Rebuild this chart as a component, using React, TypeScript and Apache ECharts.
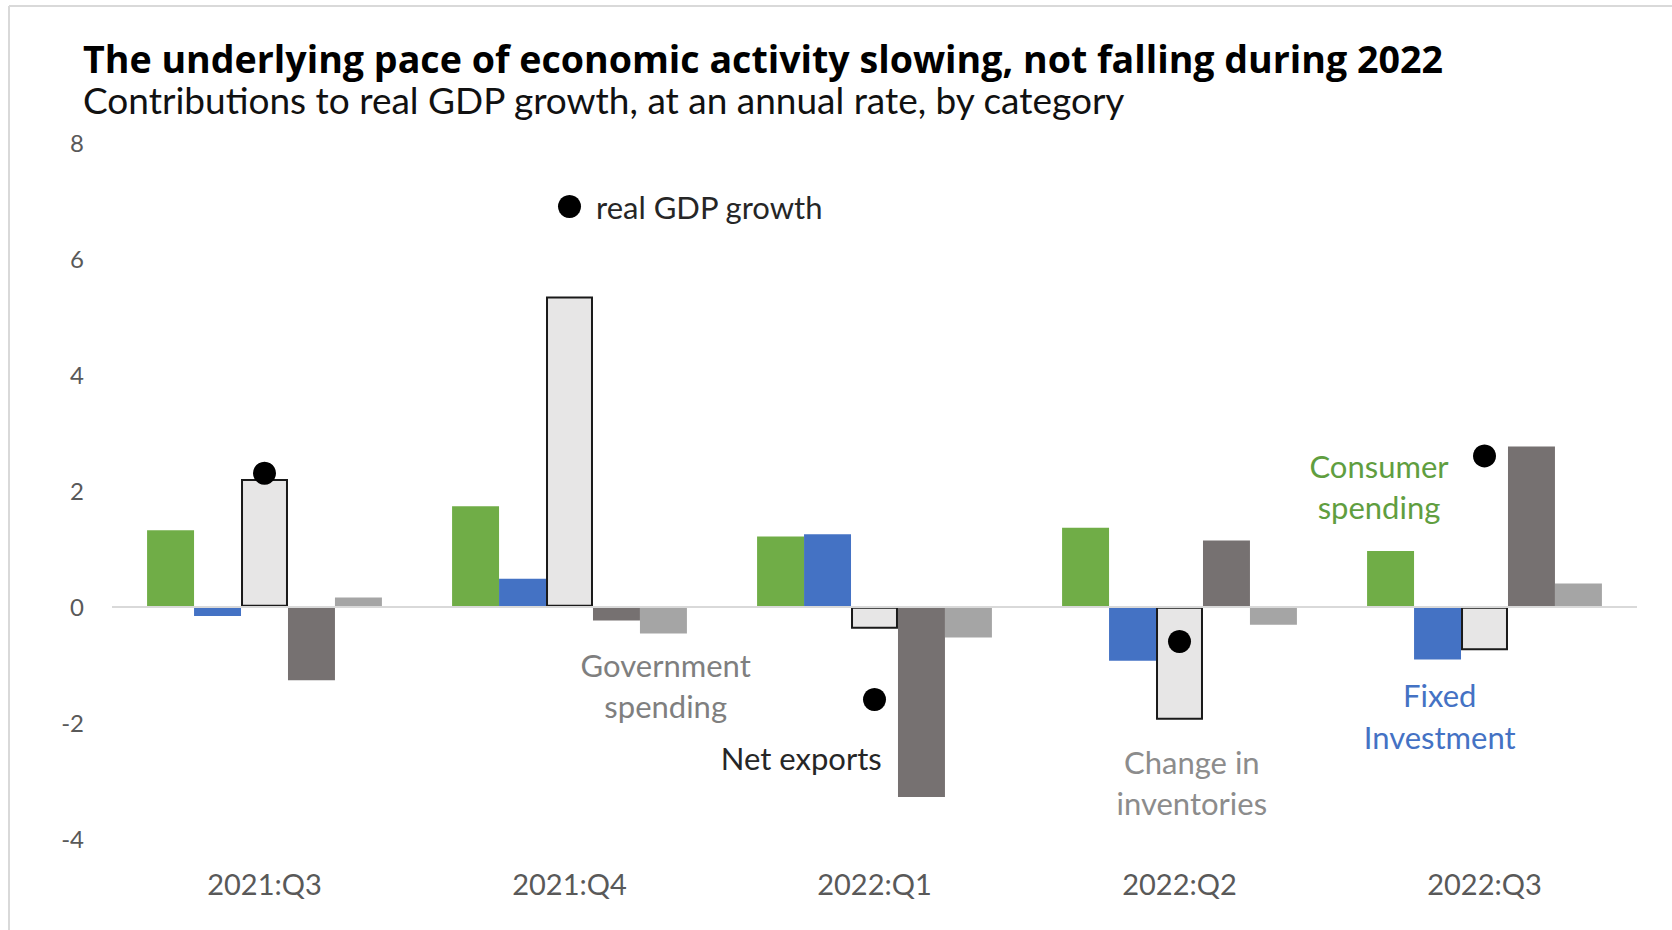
import React, { useEffect, useRef } from "react";
import * as echarts from "echarts";

const categories = ["2021:Q3", "2021:Q4", "2022:Q1", "2022:Q2", "2022:Q3"];
const consumerSpending = [1.32, 1.73, 1.21, 1.36, 0.96];
const fixedInvestment = [-0.16, 0.48, 1.25, -0.93, -0.91];
const changeInInventories = [2.2, 5.35, -0.38, -1.95, -0.75];
const netExports = [-1.27, -0.24, -3.28, 1.14, 2.76];
const governmentSpending = [0.16, -0.46, -0.53, -0.31, 0.4];
const realGdpGrowth = [2.3, 6.9, -1.6, -0.6, 2.6];
const yTicks = { min: -4, max: 8, interval: 2 };

const FONT = "Lato, 'Open Sans', sans-serif";
const TITLE_FONT = "'Open Sans', Lato, sans-serif";

function txt(text: string, x: number, y: number, size: number, fill: string, weight: string = "normal", align: string = "center", family: string = FONT) {
  return {
    type: "text",
    x,
    y,
    style: {
      text,
      fill,
      font: `${weight} ${size}px ${family}`,
      lineHeight: size,
      align,
      textAlign: align,
      verticalAlign: "middle",
      textVerticalAlign: "middle",
    },
    silent: true,
  };
}

export default function App() {
  const ref = useRef<HTMLDivElement>(null);
  useEffect(() => {
    if (!ref.current) return;
    const chart = echarts.init(ref.current, undefined, { renderer: "svg" });
    const barBase = { type: "bar", barGap: "0%", barCategoryGap: "23%" };
    chart.setOption({
      animation: false,
      backgroundColor: "#ffffff",
      grid: { left: 112, right: 35, top: 142.7, bottom: 91.3 },
      xAxis: {
        type: "category",
        data: categories,
        axisLine: { show: false },
        axisTick: { show: false },
        axisLabel: { fontSize: 29, color: "#595959", margin: 30, fontFamily: FONT },
      },
      yAxis: {
        type: "value",
        min: yTicks.min,
        max: yTicks.max,
        interval: yTicks.interval,
        splitLine: { show: false },
        axisLine: { show: false },
        axisTick: { show: false },
        axisLabel: { fontSize: 24, color: "#595959", margin: 28, fontFamily: FONT },
      },
      series: [
        {
          ...barBase,
          name: "Consumer spending",
          data: consumerSpending,
          itemStyle: { color: "#70AD47" },
          markLine: {
            silent: true,
            symbol: ["none", "none"],
            label: { show: false },
            lineStyle: { color: "#D9D9D9", width: 2, type: "solid" },
            data: [{ yAxis: 0 }],
          },
        },
        { ...barBase, name: "Fixed Investment", data: fixedInvestment, itemStyle: { color: "#4472C4" } },
        {
          ...barBase,
          name: "Change in inventories",
          data: changeInInventories,
          itemStyle: { color: "#E7E6E6", borderColor: "#1a1a1a", borderWidth: 2 },
        },
        { ...barBase, name: "Net exports", data: netExports, itemStyle: { color: "#767171" } },
        { ...barBase, name: "Government spending", data: governmentSpending, itemStyle: { color: "#A5A5A5" } },
        {
          type: "scatter",
          name: "real GDP growth",
          z: 10,
          symbol: "circle",
          symbolSize: 23,
          itemStyle: { color: "#000000", opacity: 1 },
          data: realGdpGrowth.map((v, i) =>
            i === 1
              ? {
                  value: v,
                  label: {
                    show: true,
                    position: "right",
                    distance: 15,
                    formatter: "real GDP growth",
                    fontSize: 31,
                    color: "#262626",
                    fontFamily: FONT,
                  },
                }
              : v
          ),
        },
      ],
      graphic: [
        { type: "line", shape: { x1: 9, y1: 6, x2: 1672, y2: 6 }, style: { stroke: "#D9D9D9", lineWidth: 2 }, silent: true },
        { type: "line", shape: { x1: 9, y1: 6, x2: 9, y2: 930 }, style: { stroke: "#D9D9D9", lineWidth: 2 }, silent: true },
        txt("The underlying pace of economic activity slowing, not falling during 2022", 83, 58, 37.6, "#000000", "bold", "left", TITLE_FONT),
        txt("Contributions to real GDP growth, at an annual rate, by category", 83, 99, 37, "#111111", "normal", "left"),
        txt("Government", 665.7, 664.8, 31, "#7F7F7F"),
        txt("spending", 665.7, 705.9, 31, "#7F7F7F"),
        txt("Net exports", 801.3, 757.5, 31, "#262626"),
        txt("Change in", 1191.8, 762, 31, "#8C8C8C"),
        txt("inventories", 1191.8, 802.5, 31, "#8C8C8C"),
        txt("Consumer", 1379, 466, 31, "#609E3F"),
        txt("spending", 1379, 507, 31, "#609E3F"),
        txt("Fixed", 1439.7, 695, 31, "#4472C4"),
        txt("Investment", 1439.7, 737, 31, "#4472C4"),
      ],
    });
    return () => chart.dispose();
  }, []);
  return (
    <div
      ref={ref}
      style={{ position: "fixed", left: 0, top: 0, width: 1672, height: 930, background: "#ffffff" }}
    />
  );
}
